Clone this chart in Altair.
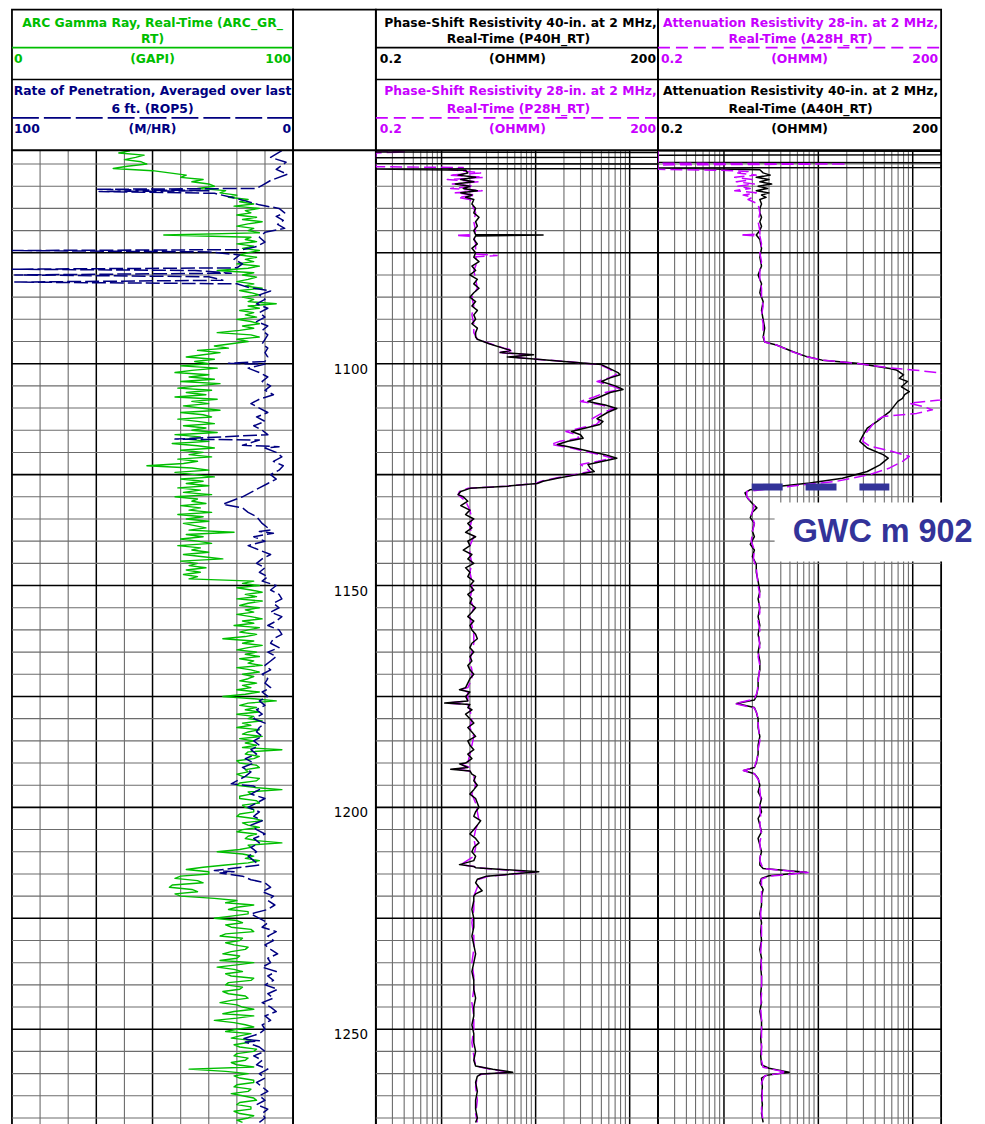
import altair as alt
import pandas as pd

# ------------------------------------------------------------------ data
DEPTH_TOP, DEPTH_BOTTOM = 1051.9, 1273.0
DEPTH_LABELS = [1100, 1150, 1200, 1250]
DEPTH_GRID_MINOR = [d for d in range(1055, 1273, 5) if d % 25]
DEPTH_GRID_MAJOR = list(range(1075, 1273, 25))
GR_GRID_MINOR = [10, 20, 40, 60, 70, 80, 90]
GR_GRID_MAJOR = [30, 50]
LOG_GRID_MINOR = [0.3, 0.4, 0.5, 0.6, 0.7, 0.8, 0.9, 2, 3, 4, 5, 6, 7, 8, 9,
                  20, 30, 40, 50, 60, 70, 80, 90]
LOG_GRID_MAJOR = [1, 10, 100]

# Gamma ray (GAPI), one sample every half foot starting at GR_START
GR_START, GR_STEP = 1052.0, 0.5
GR = [
    42, 38, 47, 44, 40, 46, 48, 41, 36, 50,   # 1052-1056.5
    56, 62, 60, 68, 64, 70, 72, 66, 76, 74,   # 1057-1061.5
    80, 77, 84, 81, 86, 79, 88, 83, 85, 80,   # 1062-1066.5
    87, 82, 89, 84, 80, 86, 84, 88, 54, 85,   # 1067-1071.5
    83, 87, 80, 86, 82, 88, 84, 81, 87, 83,   # 1072-1076.5
    86, 80, 88, 84, 73, 86, 82, 87, 84, 80,   # 1077-1081.5
    86, 83, 89, 81, 85, 88, 82, 86, 84, 94,   # 1082-1086.5
    84, 88, 81, 86, 83, 87, 80, 85, 88, 82,   # 1087-1091.5
    86, 81, 73, 85, 88, 80, 84, 78, 72, 77,   # 1092-1096.5
    66, 74, 68, 62, 72, 65, 70, 60, 73, 64,   # 1097-1101.5
    58, 70, 63, 72, 60, 74, 66, 59, 71, 62,   # 1102-1106.5
    69, 58, 73, 64, 70, 61, 67, 74, 60, 68,   # 1107-1111.5
    71, 59, 66, 72, 61, 69, 64, 73, 58, 67,   # 1112-1116.5
    62, 70, 57, 66, 72, 60, 68, 63, 71, 59,   # 1117-1121.5
    66, 61, 48, 64, 70, 58, 65, 72, 60, 68,   # 1122-1126.5
    62, 70, 59, 67, 61, 71, 58, 66, 64, 69,   # 1127-1131.5
    60, 67, 63, 71, 59, 68, 62, 70, 61, 65,   # 1132-1136.5
    69, 63, 79, 62, 68, 60, 66, 71, 59, 67,   # 1137-1141.5
    64, 70, 61, 68, 75, 60, 66, 63, 69, 62,   # 1142-1146.5
    67, 61, 66, 63, 86, 82, 88, 80, 85, 89,   # 1147-1151.5
    83, 87, 80, 89, 84, 81, 88, 83, 86, 80,   # 1152-1156.5
    85, 89, 82, 86, 79, 88, 84, 81, 87, 83,   # 1157-1161.5
    75, 86, 82, 89, 84, 80, 87, 83, 88, 81,   # 1162-1166.5
    86, 84, 89, 80, 85, 88, 82, 86, 84, 81,   # 1167-1171.5
    87, 82, 85, 80, 88, 83, 75, 86, 94, 84,   # 1172-1176.5
    81, 87, 83, 88, 80, 86, 84, 89, 82, 85,   # 1177-1181.5
    80, 88, 84, 82, 89, 81, 86, 83, 87, 82,   # 1182-1186.5
    96, 84, 83, 88, 86, 80, 81, 87, 88, 83,   # 1187-1191.5
    84, 80, 82, 88, 87, 81, 80, 86, 96, 84,   # 1192-1196.5
    85, 81, 81, 87, 88, 82, 83, 86, 86, 81,   # 1197-1201.5
    80, 86, 89, 82, 84, 88, 82, 80, 87, 84,   # 1202-1206.5
    83, 87, 96, 84, 85, 81, 73, 82, 86, 83,   # 1207-1211.5
    88, 84, 76, 68, 62, 70, 70, 60, 58, 66,   # 1212-1216.5
    68, 57, 56, 64, 66, 58, 60, 72, 80, 76,   # 1217-1221.5
    86, 80, 77, 84, 84, 78, 72, 80, 82, 76,   # 1222-1226.5
    78, 85, 86, 76, 74, 82, 81, 76, 79, 84,   # 1227-1231.5
    83, 78, 75, 81, 80, 74, 86, 80, 73, 79,   # 1232-1236.5
    82, 76, 78, 86, 85, 77, 76, 82, 81, 75,   # 1237-1241.5
    77, 83, 84, 78, 74, 80, 82, 86, 79, 75,   # 1242-1246.5
    86, 80, 72, 79, 83, 86, 80, 76, 85, 81,   # 1247-1251.5
    78, 85, 84, 79, 81, 87, 86, 80, 79, 84,   # 1252-1256.5
    83, 78, 80, 86, 63, 76, 84, 79, 81, 86,   # 1257-1261.5
    86, 80, 79, 85, 84, 78, 82, 86, 87, 81,   # 1262-1266.5
    80, 85, 85, 79, 81, 86, 84, 80, 82,       # 1267-1271
]

# Rate of penetration (M/HR): (depth, value)
ROP = [
    (1052.0, 4), (1053.5, 8), (1054.6, 2.5), (1056.2, 6), (1057.3, 2), (1058.7, 8), (1059.8, 11), (1060.5, 13),
    (1060.7, 70), (1061.0, 30), (1061.2, 69), (1061.6, 28), (1062.5, 22), (1063.3, 17), (1064.2, 12),
    (1065.0, 5), (1066.0, 3), (1066.8, 6), (1067.7, 3.5), (1068.6, 5.5), (1069.5, 3), (1070.4, 10), (1071.5, 12),
    (1072.6, 10), (1073.6, 13), (1074.3, 18), (1074.5, 100), (1074.8, 30), (1075.5, 19), (1076.5, 21), (1077.5, 18),
    (1078.4, 20), (1078.7, 100), (1079.0, 35), (1079.6, 22), (1080.0, 99), (1080.4, 30), (1081.2, 25), (1081.6, 99),
    (1082.0, 20), (1082.8, 16), (1083.6, 8), (1084.5, 12), (1085.5, 10), (1086.5, 13), (1087.5, 9), (1088.5, 12),
    (1089.5, 10), (1090.5, 13), (1091.5, 9), (1092.5, 11), (1093.5, 9), (1094.5, 10), (1095.5, 11), (1096.5, 9),
    (1097.5, 10), (1098.5, 9), (1099.5, 10), (1099.9, 23), (1100.1, 10), (1101, 16), (1102, 12), (1103, 9),
    (1104, 11), (1105, 8), (1106, 10), (1107, 7), (1108, 12), (1109, 15), (1110, 12), (1111, 9), (1112, 13),
    (1113, 10), (1114, 14), (1115, 11), (1116, 9), (1117.0, 42), (1117.2, 12), (1118.4, 18), (1118.7, 5), (1119, 10),
    (1120, 6), (1121, 4), (1122, 7), (1123, 3.5), (1124, 5), (1125, 8), (1126, 6), (1127, 9), (1128, 12), (1129, 15),
    (1130, 18), (1131.7, 25), (1132.5, 18), (1133.5, 16), (1134.5, 13), (1136, 11), (1137.5, 8), (1137.8, 12),
    (1138.2, 7), (1139, 14), (1140, 10), (1141, 16), (1142, 12), (1143, 8), (1144, 11), (1145, 13), (1146, 10),
    (1147, 12), (1148, 9), (1149, 11), (1150, 6), (1151, 8), (1152, 5), (1153, 4), (1154, 7), (1155, 5), (1156, 8),
    (1157, 4), (1158, 6), (1159, 9), (1160, 5), (1161, 4), (1162, 7), (1163, 8), (1164, 5), (1165, 9), (1166, 6),
    (1167, 8), (1168, 10), (1169, 8), (1170, 11), (1171, 9), (1172, 10), (1173, 8), (1174, 11), (1175, 9),
    (1176, 12), (1177, 10), (1178, 13), (1179, 11), (1180, 14), (1181, 10), (1182, 12), (1183, 13), (1184, 11),
    (1185, 14), (1186, 12), (1187, 15), (1188, 13), (1189, 17), (1190, 14), (1191, 18), (1192, 15), (1193, 17),
    (1194.7, 22), (1195.2, 14), (1196, 12), (1197, 15), (1198, 10), (1199, 13), (1200, 16), (1201, 12), (1202, 14),
    (1203, 11), (1204, 15), (1205, 13), (1206, 10), (1207, 14), (1208, 12), (1209, 15), (1210, 13), (1211, 16),
    (1212, 14), (1213, 12), (1213.8, 22), (1214.2, 28), (1214.5, 21), (1214.8, 26), (1215.5, 18), (1216.3, 15),
    (1217, 10), (1218, 8), (1219, 11), (1220, 7), (1221, 9), (1222, 6.5), (1223, 9), (1224, 15), (1225, 12),
    (1226, 9), (1227, 11), (1228, 6), (1229, 9), (1230, 7), (1231, 10), (1232, 8), (1233, 5.5), (1234, 9),
    (1235, 8), (1236, 11), (1237, 6), (1238, 9), (1239, 7), (1240, 10), (1241, 5.5), (1242, 9), (1243, 7),
    (1244, 11), (1245, 8), (1246, 6), (1247, 10), (1248, 8), (1249, 11), (1250, 10), (1251, 12), (1252.2, 18),
    (1252.6, 12), (1252.9, 17), (1254, 12), (1255, 10), (1256, 14), (1257, 11), (1258, 13), (1259, 9), (1260, 12),
    (1261, 10), (1262, 13), (1263, 11), (1264, 9), (1265, 12), (1266, 10), (1267, 13), (1268, 9), (1269, 11),
    (1270, 10), (1271, 12),
]

# Phase-shift resistivity 40-in (OHMM)
P40H = [
    (1052.3, 0.2), (1052.4, 200), (1053.5, 200), (1053.6, 0.2), (1054.9, 0.2), (1055.0, 200), (1056.0, 200),
    (1056.1, 0.2), (1056.4, 1.8), (1057.0, 1.9), (1057.5, 1.5), (1058.0, 2.3), (1058.5, 1.6), (1059.0, 2.2),
    (1059.5, 1.4), (1060.0, 2.0), (1060.5, 1.7), (1061.0, 2.4), (1061.5, 1.6), (1062.0, 2.1), (1062.5, 1.8),
    (1063.0, 2.2), (1064.0, 2.1), (1065.0, 2.3), (1066.0, 2.2), (1067.0, 2.5), (1068.0, 2.3), (1069.0, 2.4),
    (1070.0, 2.2), (1070.9, 2.3), (1071.0, 12.0), (1071.2, 2.3), (1072.0, 2.2), (1073.0, 2.4), (1074.0, 2.1),
    (1075.0, 2.3), (1076.0, 2.2), (1077.0, 2.5), (1078.0, 2.1), (1079.0, 2.3), (1080.0, 2.0), (1081.0, 2.4),
    (1082.0, 2.2), (1083.0, 2.5), (1084.0, 2.2), (1085.0, 2.0), (1086.0, 2.3), (1087.0, 2.1), (1088.0, 2.4),
    (1089.0, 2.2), (1090.0, 2.3), (1091.0, 2.1), (1092.0, 2.4), (1093.0, 2.3), (1094.0, 2.3), (1094.5, 2.4),
    (1095.5, 3.2), (1096.5, 4.5), (1097.0, 5.4), (1097.5, 4.2), (1098.0, 9.5), (1098.5, 5.0), (1099.0, 10.4),
    (1099.5, 20.0), (1100.2, 50.0), (1101.0, 60.0), (1102.0, 75.0), (1102.5, 79.0), (1103.2, 62.0), (1104.0, 50.0),
    (1105.0, 70.0), (1105.8, 85.0), (1106.5, 62.0), (1107.5, 48.0), (1108.5, 36.0), (1109.3, 55.0), (1110.1, 73.0),
    (1111.0, 58.0), (1112.4, 45.0), (1113.0, 52.0), (1113.7, 48.0), (1114.5, 34.0), (1115.3, 24.0), (1116.0, 30.0),
    (1116.8, 32.0), (1117.5, 22.0), (1118.2, 17.0), (1119.0, 26.0), (1119.8, 38.0), (1120.5, 55.0), (1121.3, 73.0),
    (1122.0, 52.0), (1122.7, 36.0), (1123.5, 38.0), (1124.3, 42.0), (1125.0, 28.0), (1125.8, 17.0), (1126.5, 12.0),
    (1127.0, 10.4), (1127.6, 5.0), (1128.1, 2.0), (1128.8, 1.6), (1129.5, 1.5), (1130.0, 1.7), (1131.0, 1.9),
    (1132.0, 1.6), (1133.0, 2.0), (1134.0, 1.8), (1135.0, 2.2), (1136.0, 1.9), (1137.0, 2.1), (1138.0, 1.8),
    (1139.0, 2.3), (1140.0, 1.9), (1141.0, 2.0), (1142.0, 1.7), (1143.0, 2.1), (1144.0, 1.9), (1145.0, 2.2),
    (1146.0, 1.8), (1147.0, 2.0), (1148.0, 1.9), (1149.0, 2.2), (1150.0, 2.0), (1151.0, 2.2), (1152.0, 1.9),
    (1153.0, 2.1), (1154.0, 2.0), (1155.0, 2.3), (1156.0, 2.1), (1157.0, 1.9), (1158.0, 2.2), (1159.0, 2.0),
    (1160.0, 2.1), (1161.0, 2.3), (1162.0, 2.4), (1163.0, 2.1), (1164.0, 2.0), (1165.0, 2.2), (1166.0, 2.0),
    (1167.0, 2.1), (1168.0, 1.9), (1169.0, 2.0), (1170.0, 2.2), (1171.0, 2.0), (1172.0, 1.9), (1173.0, 1.8),
    (1173.5, 1.55), (1174.0, 2.0), (1175.0, 1.8), (1176.0, 1.9), (1176.5, 1.08), (1176.8, 2.0), (1177.5, 1.9),
    (1178.0, 2.1), (1179.0, 1.8), (1180.0, 2.0), (1181.0, 2.2), (1182.0, 1.9), (1183.0, 2.1), (1184.0, 2.3),
    (1185.0, 1.9), (1186.0, 2.0), (1187.0, 2.2), (1188.0, 1.9), (1189.0, 2.1), (1190.0, 1.8), (1190.2, 1.55),
    (1191.0, 1.9), (1191.4, 1.25), (1191.8, 2.0), (1192.5, 2.1), (1193.0, 2.3), (1194.0, 2.2), (1195.0, 2.4),
    (1196.0, 2.2), (1197.0, 2.0), (1198.0, 2.3), (1199.0, 2.4), (1200.0, 2.5), (1201.0, 2.3), (1202.0, 2.2),
    (1203.0, 2.6), (1204.0, 2.4), (1205.0, 2.2), (1206.0, 2.0), (1207.0, 2.3), (1208.0, 2.5), (1209.0, 2.2),
    (1210.0, 2.1), (1211.0, 2.3), (1212.0, 2.2), (1212.9, 1.55), (1213.3, 2.2), (1213.6, 2.3), (1214.5, 10.8),
    (1215.5, 3.0), (1216.2, 2.4), (1217.0, 2.3), (1218.0, 2.5), (1218.8, 2.7), (1219.5, 2.3), (1220.0, 2.2),
    (1221.0, 2.2), (1223.0, 2.1), (1225.0, 2.2), (1227.0, 2.2), (1229.0, 2.1), (1231.0, 2.2), (1233.0, 2.3),
    (1235.0, 2.2), (1237.0, 2.1), (1239.0, 2.2), (1241.0, 2.2), (1243.0, 2.3), (1245.0, 2.2), (1247.0, 2.2),
    (1249.0, 2.1), (1251.0, 2.2), (1253.0, 2.2), (1255.0, 2.3), (1257.0, 2.2), (1258.3, 2.3), (1259.0, 3.5),
    (1259.7, 5.7), (1260.1, 2.6), (1260.6, 2.4), (1262.0, 2.3), (1264.0, 2.4), (1266.0, 2.3), (1268.0, 2.3),
    (1270.0, 2.4), (1271.0, 2.3),
]

# Phase-shift resistivity 28-in (OHMM)
P28H = [
    (1052.0, 0.2), (1052.3, 0.4), (1052.5, 0.2), (1055.6, 0.2), (1055.8, 1.7), (1056.2, 1.2), (1057.0, 2.6),
    (1057.5, 1.2), (1058.0, 2.8), (1058.5, 1.15), (1059.0, 2.5), (1059.5, 1.3), (1060.0, 2.2), (1060.5, 1.25),
    (1061.0, 2.7), (1061.5, 1.4), (1062.0, 2.3), (1062.5, 1.5), (1063.0, 2.0), (1064.0, 2.1), (1066.0, 2.3),
    (1068.0, 2.2), (1070.0, 2.3), (1070.9, 2.2), (1071.1, 1.41), (1071.3, 2.2), (1073.0, 2.3), (1075.3, 2.3),
    (1075.6, 3.9), (1075.9, 2.3), (1077.0, 2.4), (1079.0, 2.2), (1081.0, 2.3), (1083.0, 2.4), (1085.0, 2.1),
    (1087.0, 2.2), (1089.0, 2.1), (1091.0, 2.2), (1093.0, 2.2), (1094.5, 2.4), (1095.5, 3.3), (1096.5, 4.6),
    (1097.0, 5.8), (1097.5, 4.0), (1098.0, 8.5), (1098.5, 5.5), (1099.0, 10.0), (1099.5, 21.0), (1100.2, 48.0),
    (1101.0, 58.0), (1102.0, 70.0), (1102.5, 72.0), (1103.2, 60.0), (1104.0, 45.0), (1105.0, 64.0), (1105.8, 80.0),
    (1106.5, 55.0), (1107.5, 42.0), (1108.5, 30.0), (1109.3, 50.0), (1110.1, 68.0), (1111.0, 52.0), (1112.4, 40.0),
    (1113.0, 48.0), (1113.7, 44.0), (1114.5, 30.0), (1115.3, 21.0), (1116.0, 27.0), (1116.8, 29.0), (1117.5, 18.0),
    (1118.2, 14.5), (1119.0, 24.0), (1119.8, 34.0), (1120.5, 48.0), (1121.3, 66.0), (1122.0, 46.0), (1122.7, 30.0),
    (1123.5, 34.0), (1124.3, 38.0), (1125.0, 26.0), (1125.8, 16.0), (1126.5, 11.5), (1127.0, 10.0), (1127.6, 5.0),
    (1128.1, 1.9), (1128.8, 1.55), (1129.5, 1.5), (1131.0, 1.8), (1133.0, 2.0), (1135.0, 2.1), (1137.0, 2.0),
    (1139.0, 2.2), (1141.0, 2.0), (1143.0, 2.0), (1145.0, 2.1), (1147.0, 2.0), (1149.0, 2.1), (1151.0, 2.1),
    (1153.0, 2.0), (1155.0, 2.2), (1157.0, 2.0), (1159.0, 2.1), (1161.0, 2.2), (1163.0, 2.2), (1165.0, 2.1),
    (1167.0, 2.0), (1169.0, 2.1), (1171.0, 2.1), (1173.0, 1.9), (1173.5, 1.6), (1174.0, 1.9), (1176.0, 1.9),
    (1176.5, 1.15), (1176.8, 1.9), (1178.0, 2.0), (1180.0, 2.1), (1182.0, 2.0), (1184.0, 2.2), (1186.0, 2.1),
    (1188.0, 2.0), (1190.0, 1.9), (1190.2, 1.6), (1191.0, 2.0), (1191.4, 1.35), (1191.8, 2.0), (1193.0, 2.2),
    (1195.0, 2.3), (1197.0, 2.1), (1199.0, 2.3), (1201.0, 2.4), (1203.0, 2.5), (1205.0, 2.3), (1207.0, 2.2),
    (1209.0, 2.3), (1211.0, 2.2), (1212.9, 1.6), (1213.3, 2.2), (1213.6, 2.3), (1214.6, 10.0), (1215.5, 3.2),
    (1216.2, 2.5), (1218.0, 2.4), (1220.0, 2.2), (1223.0, 2.2), (1226.0, 2.1), (1229.0, 2.2), (1232.0, 2.2),
    (1235.0, 2.1), (1238.0, 2.2), (1241.0, 2.2), (1244.0, 2.1), (1247.0, 2.2), (1250.0, 2.2), (1253.0, 2.1),
    (1256.0, 2.2), (1258.3, 2.3), (1259.0, 3.3), (1259.7, 5.3), (1260.1, 2.7), (1260.6, 2.4), (1263.0, 2.3),
    (1266.0, 2.4), (1269.0, 2.3), (1271.0, 2.4),
]

# Attenuation resistivity 40-in (OHMM)
A40H = [
    (1052.0, 0.2), (1052.1, 200), (1052.9, 200), (1053.0, 0.2), (1054.6, 0.2), (1054.7, 200), (1055.8, 200),
    (1055.9, 0.2), (1056.3, 2.4), (1057.0, 2.6), (1057.5, 3.1), (1058.0, 2.2), (1058.5, 3.0), (1059.0, 2.4),
    (1059.5, 3.2), (1060.0, 2.3), (1060.5, 2.9), (1061.0, 2.2), (1061.5, 3.0), (1062.0, 2.5), (1062.5, 2.8),
    (1063.0, 2.4), (1064.0, 2.5), (1065.0, 2.4), (1066.0, 2.4), (1067.0, 2.5), (1068.0, 2.4), (1069.0, 2.5),
    (1070.0, 2.4), (1071.0, 2.2), (1072.0, 2.4), (1074.0, 2.5), (1076.0, 2.4), (1078.0, 2.5), (1080.0, 2.3),
    (1082.0, 2.5), (1084.0, 2.4), (1086.0, 2.6), (1088.0, 2.5), (1090.0, 2.6), (1092.0, 2.7), (1094.0, 2.6),
    (1095.1, 2.7), (1095.8, 3.6), (1097.3, 5.4), (1098.4, 7.5), (1099.2, 11.0), (1099.9, 25.6), (1101.1, 57.0),
    (1101.4, 67.0), (1102.5, 80.0), (1103.3, 72.0), (1104.0, 88.0), (1105.2, 76.0), (1106.3, 92.0), (1107.0, 82.0),
    (1107.8, 78.0), (1108.5, 69.5), (1110.8, 57.0), (1113.0, 42.0), (1114.5, 33.0), (1116.0, 30.0), (1117.5, 27.5),
    (1119.0, 33.0), (1120.5, 48.6), (1121.3, 55.0), (1122.8, 45.0), (1124.3, 33.0), (1125.8, 18.0), (1126.9, 8.1),
    (1127.6, 3.9), (1128.4, 1.9), (1129.1, 1.67), (1130.3, 1.78), (1131.5, 2.0), (1132.5, 2.23), (1133.5, 2.0),
    (1134.7, 1.9), (1136.0, 2.1), (1137.7, 2.0), (1139.0, 2.1), (1140.7, 1.9), (1142.0, 2.1), (1143.5, 2.0),
    (1145.2, 2.2), (1147.0, 2.2), (1149.0, 2.3), (1151.3, 2.4), (1153.0, 2.3), (1155.0, 2.4), (1157.0, 2.3),
    (1159.0, 2.4), (1161.0, 2.3), (1163.0, 2.4), (1165.0, 2.3), (1167.0, 2.4), (1169.0, 2.4), (1171.0, 2.3),
    (1173.0, 2.3), (1175.0, 2.2), (1175.8, 2.1), (1176.6, 1.36), (1177.5, 2.1), (1178.5, 2.2), (1180.0, 2.3),
    (1182.0, 2.3), (1184.0, 2.4), (1186.0, 2.3), (1188.0, 2.3), (1190.0, 2.2), (1191.0, 2.1), (1191.7, 1.62),
    (1192.4, 2.1), (1193.5, 2.3), (1195.0, 2.4), (1196.5, 2.3), (1198.0, 2.5), (1199.5, 2.4), (1201.0, 2.5),
    (1202.5, 2.3), (1204.0, 2.4), (1205.5, 2.5), (1207.0, 2.3), (1208.5, 2.4), (1210.0, 2.5), (1211.5, 2.4),
    (1213.0, 2.4), (1213.8, 2.6), (1214.6, 7.5), (1215.4, 3.0), (1216.0, 2.5), (1217.0, 2.4), (1218.5, 2.6),
    (1220.0, 2.5), (1222.0, 2.5), (1224.0, 2.4), (1226.0, 2.5), (1228.0, 2.45), (1230.0, 2.5), (1232.0, 2.4),
    (1234.0, 2.5), (1236.0, 2.45), (1238.0, 2.5), (1240.0, 2.5), (1242.0, 2.45), (1244.0, 2.5), (1246.0, 2.4),
    (1248.0, 2.5), (1250.0, 2.5), (1252.0, 2.45), (1254.0, 2.5), (1256.0, 2.45), (1258.0, 2.5), (1258.8, 3.0),
    (1259.7, 4.9), (1260.4, 2.8), (1261.0, 2.5), (1263.0, 2.55), (1265.0, 2.5), (1267.0, 2.55), (1269.0, 2.5),
    (1271.0, 2.6),
]

# Attenuation resistivity 28-in (OHMM); values above 200 are off scale
A28H = [
    (1052.0, 0.2), (1054.8, 0.2), (1055.0, 20.0), (1055.2, 0.2), (1056.2, 0.2), (1056.4, 0.9), (1056.7, 1.8),
    (1057.0, 1.4), (1057.5, 2.2), (1058.0, 1.3), (1058.5, 2.0), (1059.0, 1.35), (1059.5, 2.1), (1060.0, 1.4),
    (1060.5, 1.9), (1061.0, 1.3), (1061.5, 2.2), (1062.0, 1.6), (1062.5, 2.0), (1063.0, 1.8), (1064.0, 2.3),
    (1066.0, 2.4), (1068.0, 2.3), (1070.0, 2.4), (1070.8, 2.4), (1071.0, 1.48), (1071.2, 2.4), (1073.0, 2.5),
    (1075.0, 2.4), (1077.0, 2.5), (1079.0, 2.4), (1081.0, 2.4), (1083.0, 2.5), (1085.0, 2.5), (1087.0, 2.6),
    (1089.0, 2.5), (1091.0, 2.6), (1093.0, 2.6), (1095.1, 2.7), (1095.8, 3.6), (1097.3, 5.3), (1098.4, 7.4),
    (1099.2, 11.0), (1099.9, 25.0), (1100.9, 55.0), (1101.4, 100.0), (1101.8, 150.0), (1102.2, 210.0),
    (1104.0, 400.0), (1106.0, 400.0), (1107.8, 260.0), (1108.2, 195.0), (1108.9, 92.0), (1109.7, 130.0),
    (1110.4, 162.0), (1111.2, 110.0), (1111.9, 48.6), (1113.0, 40.0), (1114.5, 35.2), (1116.0, 31.0),
    (1117.5, 29.6), (1118.6, 35.2), (1119.8, 61.0), (1120.9, 92.0), (1122.0, 78.0), (1123.5, 57.0), (1125.0, 35.0),
    (1126.5, 15.7), (1127.2, 7.5), (1128.0, 3.6), (1128.8, 1.74), (1130.0, 1.75), (1132.0, 2.1), (1134.0, 1.95),
    (1136.0, 2.1), (1138.0, 2.0), (1140.0, 1.95), (1142.0, 2.1), (1144.0, 2.05), (1146.0, 2.2), (1148.0, 2.25),
    (1150.0, 2.3), (1152.0, 2.4), (1154.0, 2.35), (1156.0, 2.4), (1158.0, 2.3), (1160.0, 2.4), (1162.0, 2.35),
    (1164.0, 2.4), (1166.0, 2.3), (1168.0, 2.4), (1170.0, 2.35), (1172.0, 2.3), (1174.0, 2.25), (1175.6, 2.1),
    (1176.6, 1.3), (1177.6, 2.1), (1179.0, 2.25), (1181.0, 2.3), (1183.0, 2.35), (1185.0, 2.4), (1187.0, 2.3),
    (1189.0, 2.25), (1191.0, 2.1), (1191.7, 1.6), (1192.4, 2.1), (1194.0, 2.35), (1196.0, 2.4), (1198.0, 2.45),
    (1200.0, 2.4), (1202.0, 2.45), (1204.0, 2.4), (1206.0, 2.5), (1208.0, 2.4), (1210.0, 2.45), (1212.0, 2.4),
    (1213.8, 2.6), (1214.7, 7.8), (1215.5, 3.0), (1216.2, 2.5), (1218.0, 2.5), (1221.0, 2.5), (1224.0, 2.45),
    (1227.0, 2.5), (1230.0, 2.5), (1233.0, 2.45), (1236.0, 2.5), (1239.0, 2.5), (1242.0, 2.5), (1245.0, 2.45),
    (1248.0, 2.5), (1251.0, 2.5), (1254.0, 2.5), (1257.0, 2.5), (1258.6, 2.6), (1259.7, 4.6), (1260.5, 2.7),
    (1262.0, 2.5), (1265.0, 2.55), (1268.0, 2.5), (1271.0, 2.6),
]

GWC_DEPTH = 1127.8
GWC_LABEL = "GWC m 902"
GWC_SPAN = (1.97, 56.5)                   # OHMM extent of the dashed marker
GWC_BOX = (3.44, 570.0, 1131.3, 1144.6)   # label box: x from/to (OHMM), depth from/to
GWC_TEXT_AT = (5.34, 1138.0)

# ------------------------------------------------------------------ style / layout
GREEN, NAVY, MAGENTA, BLACK = "#00BE00", "#000080", "#C800FF", "#000000"
GWC_COLOR = "#333399"
GRID_MINOR, GRID_MAJOR = "#6c6c6c", "#000000"
FONT = "DejaVu Sans"
W1, W0, W2, W3 = 282, 83, 283, 284
HEADER_H = 141                       # header block above the log
PX_PER_FT = 4.4505
PANEL_H = int(round(HEADER_H + (DEPTH_BOTTOM - DEPTH_TOP) * PX_PER_FT))

ys = alt.Scale(domain=[DEPTH_TOP, DEPTH_BOTTOM], range=[HEADER_H, PANEL_H], nice=False, zero=False)
gr_scale = alt.Scale(domain=[0, 100], nice=False, zero=False)
rop_scale = alt.Scale(domain=[0, 100], reverse=True, nice=False, zero=False)
log_scale = alt.Scale(type="log", domain=[0.2, 200], nice=False)
DUMMY = pd.DataFrame({"k": [0]})


def Y():
    return alt.Y("depth:Q", scale=ys, axis=None)


def pairs(data):
    return pd.DataFrame(data, columns=["depth", "v"])


def hgrid():
    minor = alt.Chart(pd.DataFrame({"depth": DEPTH_GRID_MINOR})).mark_rule(
        color=GRID_MINOR, strokeWidth=1.1).encode(y=Y())
    major = alt.Chart(pd.DataFrame({"depth": DEPTH_GRID_MAJOR})).mark_rule(
        color=GRID_MAJOR, strokeWidth=1.6).encode(y=Y())
    return [minor, major]


def vgrid(minor_vals, major_vals, scale):
    out = []
    for vals, col, w in ((minor_vals, GRID_MINOR, 1.1), (major_vals, GRID_MAJOR, 1.5)):
        out.append(alt.Chart(pd.DataFrame({"v": vals})).mark_rule(color=col, strokeWidth=w).encode(
            x=alt.X("v:Q", scale=scale, axis=None),
            y=alt.value(HEADER_H), y2=alt.value(PANEL_H)))
    return out


def curve(df, scale, color, width=1.4, dash=None):
    kw = dict(color=color, strokeWidth=width, clip=True, strokeJoin="round")
    if dash:
        kw["strokeDash"] = dash
    return alt.Chart(df).mark_line(**kw).encode(
        x=alt.X("v:Q", scale=scale, axis=None), y=Y(), order="depth:Q")


def header_layers(width, texts, lines):
    layers = []
    for align in ("left", "center", "right"):
        rows = [t for t in texts if t[1] == align]
        if not rows:
            continue
        df = pd.DataFrame({"text": [r[0] for r in rows], "x": [r[2] for r in rows],
                           "y": [r[3] for r in rows], "c": [r[4] for r in rows]})
        layers.append(alt.Chart(df).mark_text(
            align=align, baseline="middle", font=FONT, fontSize=12.4, fontWeight="bold").encode(
            x=alt.X("x:Q", scale=None, axis=None), y=alt.Y("y:Q", scale=None, axis=None),
            text="text:N", color=alt.Color("c:N", scale=None)))
    for (y, color, dash, w) in lines + [(HEADER_H, BLACK, None, 2.2)]:
        kw = dict(color=color, strokeWidth=w)
        if dash:
            kw["strokeDash"] = dash
        layers.append(alt.Chart(DUMMY).mark_rule(**kw).encode(
            x=alt.value(0), x2=alt.value(width), y=alt.value(y)))
    return layers


# header rows: text, align, x, y, colour
H1 = [
    ("ARC Gamma Ray, Real-Time (ARC_GR_", "center", 141, 13.7, GREEN),
    ("RT)", "center", 141, 29, GREEN),
    ("0", "left", 2, 49.7, GREEN), ("(GAPI)", "center", 141, 49.7, GREEN), ("100", "right", 280, 49.7, GREEN),
    ("Rate of Penetration, Averaged over last", "center", 141, 82, NAVY),
    ("6 ft. (ROP5)", "center", 141, 99.5, NAVY),
    ("100", "left", 2, 119.7, NAVY), ("(M/HR)", "center", 141, 119.7, NAVY), ("0", "right", 280, 119.7, NAVY),
]
H2 = [
    ("Phase-Shift Resistivity 40-in. at 2 MHz,", "center", 145, 13.7, BLACK),
    ("Real-Time (P40H_RT)", "center", 143, 29, BLACK),
    ("0.2", "left", 4, 49.7, BLACK), ("(OHMM)", "center", 142, 49.7, BLACK), ("200", "right", 281, 49.7, BLACK),
    ("Phase-Shift Resistivity 28-in. at 2 MHz,", "center", 145, 82, MAGENTA),
    ("Real-Time (P28H_RT)", "center", 143, 99.5, MAGENTA),
    ("0.2", "left", 4, 119.7, MAGENTA), ("(OHMM)", "center", 142, 119.7, MAGENTA), ("200", "right", 281, 119.7, MAGENTA),
]
H3 = [
    ("Attenuation Resistivity 28-in. at 2 MHz,", "center", 143, 13.7, MAGENTA),
    ("Real-Time (A28H_RT)", "center", 143, 29, MAGENTA),
    ("0.2", "left", 3, 49.7, MAGENTA), ("(OHMM)", "center", 142, 49.7, MAGENTA), ("200", "right", 281, 49.7, MAGENTA),
    ("Attenuation Resistivity 40-in. at 2 MHz,", "center", 143, 82, BLACK),
    ("Real-Time (A40H_RT)", "center", 143, 99.5, BLACK),
    ("0.2", "left", 3, 119.7, BLACK), ("(OHMM)", "center", 142, 119.7, BLACK), ("200", "right", 281, 119.7, BLACK),
]

# ------------------------------------------------------------------ track panels
gr_df = pd.DataFrame({"depth": [GR_START + i * GR_STEP for i in range(len(GR))], "v": GR})

p1 = alt.layer(
    *vgrid(GR_GRID_MINOR, GR_GRID_MAJOR, gr_scale),
    *hgrid(),
    curve(gr_df, gr_scale, GREEN, 1.4),
    curve(pairs(ROP), rop_scale, NAVY, 1.5, [14, 4]),
    *header_layers(W1, H1, [(38, GREEN, None, 1.6), (70, BLACK, None, 1.5), (108.5, NAVY, [27, 5], 1.6)]),
).resolve_scale(x="independent").properties(width=W1, height=PANEL_H)

p0 = alt.layer(
    alt.Chart(pd.DataFrame({"depth": DEPTH_LABELS})).mark_text(
        font=FONT, fontSize=13.5, align="center", baseline="middle", dy=6, color=BLACK).encode(
        x=alt.value(58), y=Y(), text=alt.Text("depth:Q", format="d")),
    *header_layers(W0, [], []),
).properties(width=W0, height=PANEL_H)

p2 = alt.layer(
    *vgrid(LOG_GRID_MINOR, LOG_GRID_MAJOR, log_scale),
    *hgrid(),
    curve(pairs(P28H), log_scale, MAGENTA, 1.5, [12, 5]),
    curve(pairs(P40H), log_scale, BLACK, 1.5),
    *header_layers(W2, H2, [(38, BLACK, None, 1.6), (70, BLACK, None, 1.5), (108.5, MAGENTA, [12, 6], 1.6)]),
).properties(width=W2, height=PANEL_H)

gwc_rule = alt.Chart(pd.DataFrame({"depth": [GWC_DEPTH], "x1": [GWC_SPAN[0]], "x2": [GWC_SPAN[1]]})).mark_rule(
    color=GWC_COLOR, strokeWidth=7, strokeDash=[31, 23]).encode(
    x=alt.X("x1:Q", scale=log_scale, axis=None), x2="x2:Q", y=Y())
gwc_box = alt.Chart(pd.DataFrame({"x1": [GWC_BOX[0]], "x2": [GWC_BOX[1]], "depth": [GWC_BOX[2]], "d2": [GWC_BOX[3]]})).mark_rect(
    color="white").encode(
    x=alt.X("x1:Q", scale=log_scale, axis=None), x2="x2:Q", y=Y(), y2="d2:Q")
gwc_text = alt.Chart(pd.DataFrame({"x": [GWC_TEXT_AT[0]], "depth": [GWC_TEXT_AT[1]], "t": [GWC_LABEL]})).mark_text(
    font="Liberation Sans", fontSize=32.5, fontWeight="bold", color=GWC_COLOR, align="left", baseline="middle").encode(
    x=alt.X("x:Q", scale=log_scale, axis=None), y=Y(), text="t:N")

p3 = alt.layer(
    *vgrid(LOG_GRID_MINOR, LOG_GRID_MAJOR, log_scale),
    *hgrid(),
    curve(pairs(A40H), log_scale, BLACK, 1.5),
    curve(pairs(A28H), log_scale, MAGENTA, 1.5, [12, 5]),
    *header_layers(W3, H3, [(38, MAGENTA, [12, 6], 1.6), (70, BLACK, None, 1.5), (108.5, BLACK, None, 1.6)]),
    gwc_rule, gwc_box, gwc_text,
).properties(width=W3, height=PANEL_H)

chart = alt.hconcat(p1, p0, p2, p3, spacing=0, bounds="flush").configure_view(
    stroke=BLACK, strokeWidth=1.8).properties(
    padding={"left": 10, "top": 7, "right": 0, "bottom": 0}, background="white")

chart.save("out.html", embed_options={"renderer": "svg", "actions": False})
